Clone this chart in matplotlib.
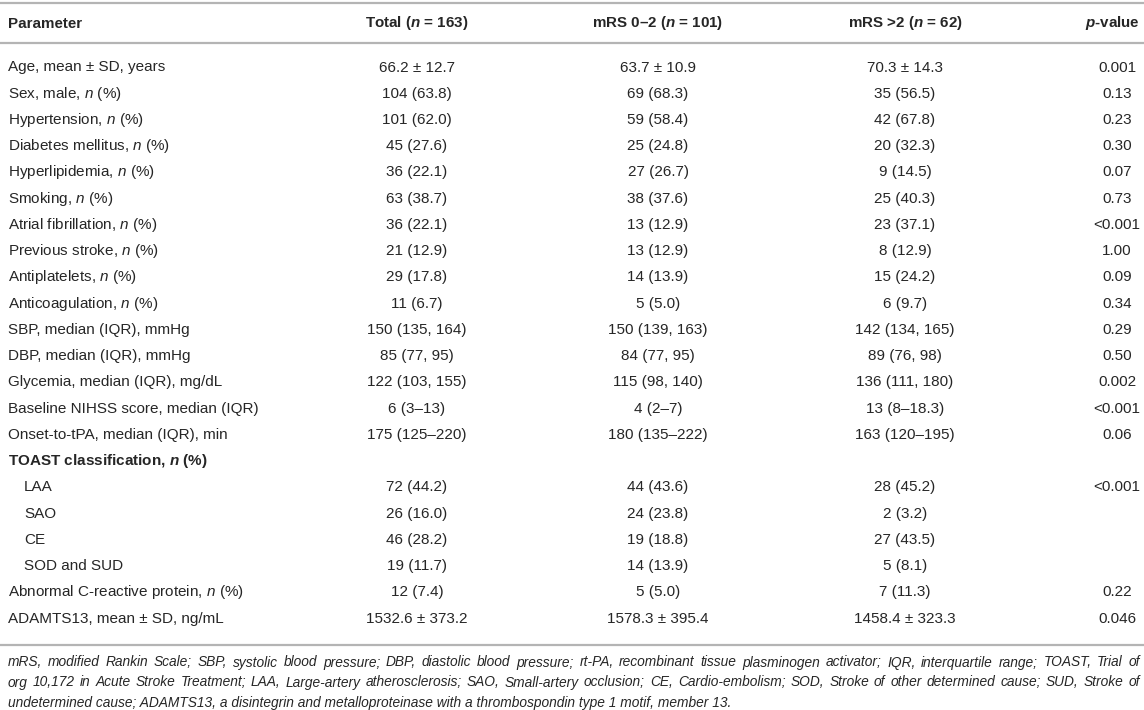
import matplotlib
matplotlib.use("Agg")
import matplotlib.pyplot as plt

plt.rcParams["font.family"] = ["Liberation Sans", "DejaVu Sans"]
plt.rcParams["mathtext.fontset"] = "custom"
plt.rcParams["mathtext.rm"] = "Liberation Sans"
plt.rcParams["mathtext.it"] = "Liberation Sans:italic"
plt.rcParams["mathtext.bf"] = "Liberation Sans:bold"
plt.rcParams["mathtext.bfit"] = "Liberation Sans:italic:bold"

N = r"$\mathit{n}$"
NB = r"$\mathbfit{n}$"

headers = ["Parameter", f"Total ({NB} = 163)", f"mRS 0–2 ({NB} = 101)",
           f"mRS >2 ({NB} = 62)", r"$\mathbfit{p}$-value"]

params = [
    "Age, mean ± SD, years",
    f"Sex, male, {N} (%)",
    f"Hypertension, {N} (%)",
    f"Diabetes mellitus, {N} (%)",
    f"Hyperlipidemia, {N} (%)",
    f"Smoking, {N} (%)",
    f"Atrial fibrillation, {N} (%)",
    f"Previous stroke, {N} (%)",
    f"Antiplatelets, {N} (%)",
    f"Anticoagulation, {N} (%)",
    "SBP, median (IQR), mmHg",
    "DBP, median (IQR), mmHg",
    "Glycemia, median (IQR), mg/dL",
    "Baseline NIHSS score, median (IQR)",
    "Onset-to-tPA, median (IQR), min",
    f"TOAST classification, {NB} (%)",
    "LAA",
    "SAO",
    "CE",
    "SOD and SUD",
    f"Abnormal C-reactive protein, {N} (%)",
    "ADAMTS13, mean ± SD, ng/mL",
]
total = ["66.2 ± 12.7", "104 (63.8)", "101 (62.0)", "45 (27.6)", "36 (22.1)",
         "63 (38.7)", "36 (22.1)", "21 (12.9)", "29 (17.8)", "11 (6.7)",
         "150 (135, 164)", "85 (77, 95)", "122 (103, 155)", "6 (3–13)",
         "175 (125–220)", "", "72 (44.2)", "26 (16.0)", "46 (28.2)",
         "19 (11.7)", "12 (7.4)", "1532.6 ± 373.2"]
mrs_low = ["63.7 ± 10.9", "69 (68.3)", "59 (58.4)", "25 (24.8)", "27 (26.7)",
           "38 (37.6)", "13 (12.9)", "13 (12.9)", "14 (13.9)", "5 (5.0)",
           "150 (139, 163)", "84 (77, 95)", "115 (98, 140)", "4 (2–7)",
           "180 (135–222)", "", "44 (43.6)", "24 (23.8)", "19 (18.8)",
           "14 (13.9)", "5 (5.0)", "1578.3 ± 395.4"]
mrs_high = ["70.3 ± 14.3", "35 (56.5)", "42 (67.8)", "20 (32.3)", "9 (14.5)",
            "25 (40.3)", "23 (37.1)", "8 (12.9)", "15 (24.2)", "6 (9.7)",
            "142 (134, 165)", "89 (76, 98)", "136 (111, 180)", "13 (8–18.3)",
            "163 (120–195)", "", "28 (45.2)", "2 (3.2)", "27 (43.5)",
            "5 (8.1)", "7 (11.3)", "1458.4 ± 323.3"]
pvals = ["0.001", "0.13", "0.23", "0.30", "0.07", "0.73", "<0.001", "1.00",
         "0.09", "0.34", "0.29", "0.50", "0.002", "<0.001", "0.06", "",
         "<0.001", "", "", "", "0.22", "0.046"]

footnote = [
    "mRS, modified Rankin Scale; SBP, systolic blood pressure; DBP, diastolic blood pressure; "
    "rt-PA, recombinant tissue plasminogen activator; IQR, interquartile range; TOAST, Trial of",
    "org 10,172 in Acute Stroke Treatment; LAA, Large-artery atherosclerosis; SAO, Small-artery "
    "occlusion; CE, Cardio-embolism; SOD, Stroke of other determined cause; SUD, Stroke of",
    "undetermined cause; ADAMTS13, a disintegrin and metalloproteinase with a thrombospondin "
    "type 1 motif, member 13.",
]

sub_rows = {"LAA", "SAO", "CE", "SOD and SUD"}
bold_rows = {15}

W, H = 1144, 710
fig = plt.figure(figsize=(W / 100, H / 100), dpi=100)
ax = fig.add_axes([0, 0, 1, 1])
ax.set_xlim(0, W)
ax.set_ylim(H, 0)
ax.axis("off")

txt = "#262626"
line_c = "#b4b4b4"
fs = 11.0
fs_head = 10.9
fs_note = 9.9
col_x = [8, 417, 658, 905, 1117]

# rules
for y in (3, 43, 645):
    ax.plot([0, W], [y, y], color=line_c, lw=1.6, solid_capstyle="butt")

# header
for i, h in enumerate(headers):
    if i == 0:
        x, ha = col_x[0], "left"
    elif i == len(headers) - 1:
        x, ha = 1140, "right"
    else:
        x, ha = col_x[i], "center"
    ax.text(x, 27.5, h, ha=ha, va="baseline",
            fontsize=fs_head, fontweight="bold", color=txt)

# body
y0, dy = 66, 26.24
for r, p in enumerate(params):
    yb = y0 + r * dy + 5.5
    x = col_x[0] + (16 if p in sub_rows else 0)
    ax.text(x, yb, p, ha="left", va="baseline", fontsize=fs, color=txt,
            fontweight="bold" if r in bold_rows else "normal")
    for c, col in enumerate([total, mrs_low, mrs_high, pvals], start=1):
        ax.text(col_x[c], yb, col[r], ha="center", va="baseline",
                fontsize=fs, color=txt)

# footnote, first lines justified to the table width
renderer = fig.canvas.get_renderer()
left, right = 8, 1140
for k, line in enumerate(footnote):
    yb = 662 + k * 20 + 4.5
    if k == len(footnote) - 1:
        ax.text(left, yb, line, ha="left", va="baseline",
                fontsize=fs_note, style="italic", color=txt)
        continue
    words = line.split(" ")
    items = [ax.text(0, yb, w, ha="left", va="baseline", fontsize=fs_note,
                     style="italic", color=txt) for w in words]
    widths = [t.get_window_extent(renderer).width for t in items]
    gap = (right - left - sum(widths)) / (len(words) - 1)
    x = left
    for t, w in zip(items, widths):
        t.set_x(x)
        x += w + gap

fig.savefig("out.png", dpi=100)
